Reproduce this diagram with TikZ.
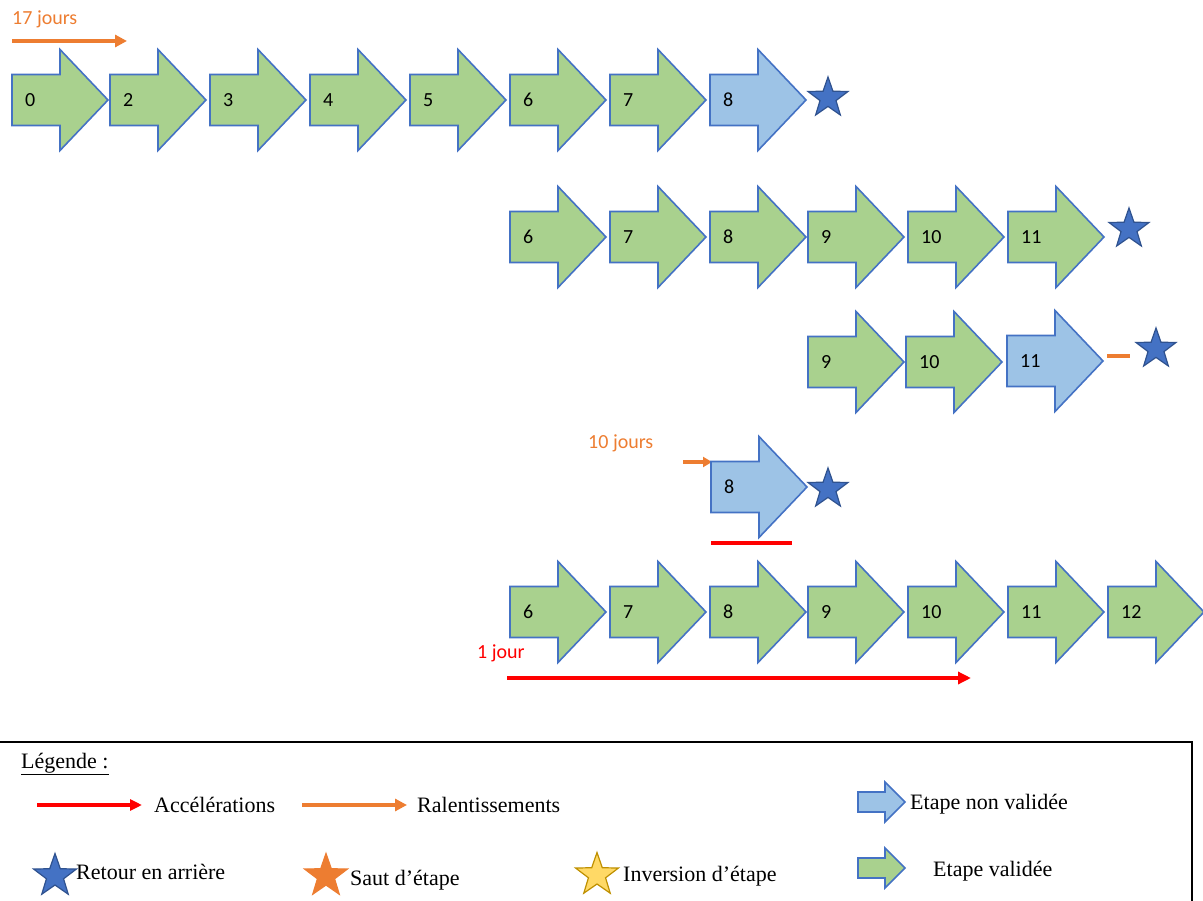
\documentclass[tikz,border=0pt]{standalone}
\usepackage{fontspec}
\setmainfont{Liberation Serif}
\newfontfamily\calfont{Carlito}
\usetikzlibrary{arrows.meta,shapes.geometric}
\definecolor{grn}{HTML}{A9D18E}
\definecolor{blu}{HTML}{9DC3E6}
\definecolor{edgeblue}{HTML}{4472C4}
\definecolor{org}{HTML}{ED7D31}
\definecolor{starblue}{HTML}{4472C4}
\definecolor{staredge}{HTML}{2F528F}
\definecolor{yel}{HTML}{FFD966}
\definecolor{yeledge}{HTML}{BF9000}
\definecolor{orgedge}{HTML}{ED7D31}
\tikzset{
  stepshape/.style={draw=edgeblue,line width=1.6pt,line join=miter},
  steplbl/.style={anchor=west,inner sep=0pt,font=\calfont\fontsize{20}{24}\selectfont},
  daylbl/.style={anchor=base west,inner sep=0pt,font=\calfont\fontsize{20}{24}\selectfont},
  legtxt/.style={anchor=base west,inner sep=0pt,font=\fontsize{22}{26}\selectfont},
  starnode/.style={star,star points=5,star point ratio=2.5,inner sep=0pt,minimum size=42pt,line width=1.2pt},
  redarr/.style={draw=red,line width=4pt,-{Triangle[length=13pt,width=12pt]}},
  orgarr/.style={draw=org,line width=3.5pt,-{Triangle[length=12pt,width=12pt]}},
}
% name, left x, center y, label, fill
\newcommand{\stp}[5]{%
  \draw[stepshape,fill=#5] (#2,#3-25.5) -- (#2+48,#3-25.5) -- (#2+48,#3-50.5) -- (#2+96,#3) -- (#2+48,#3+50.5) -- (#2+48,#3+25.5) -- (#2,#3+25.5) -- cycle;
  \node[steplbl] (#1) at (#2+13,#3) {#4};}
% legend arrow: name, left x, center y, fill
\newcommand{\legarr}[4]{%
  \draw[stepshape,fill=#4] (#2,#3-10) -- (#2+27,#3-10) -- (#2+27,#3-20) -- (#2+47,#3) -- (#2+27,#3+20) -- (#2+27,#3+10) -- (#2,#3+10) -- cycle;
  \coordinate (#1) at (#2+47,#3);}
\begin{document}
\begin{tikzpicture}[x=1pt,y=-1pt]
\useasboundingbox (0,0) rectangle (1203,901);
% row 1
\node[daylbl,text=org] (d17) at (12,25) {17 jours};
\coordinate (o1a) at (12,41);
\coordinate (o1b) at (127,41);
\draw[orgarr] (o1a) -- (o1b);
\stp{r1a}{12}{100}{0}{grn}
\stp{r1b}{110}{100}{2}{grn}
\stp{r1c}{210}{100}{3}{grn}
\stp{r1d}{310}{100}{4}{grn}
\stp{r1e}{410}{100}{5}{grn}
\stp{r1f}{510}{100}{6}{grn}
\stp{r1g}{610}{100}{7}{grn}
\stp{r1h}{710}{100}{8}{blu}
\node[starnode,fill=starblue,draw=staredge] (s1) at (828,98) {};
% row 2
\stp{r2a}{510}{237}{6}{grn}
\stp{r2b}{610}{237}{7}{grn}
\stp{r2c}{710}{237}{8}{grn}
\stp{r2d}{808}{237}{9}{grn}
\stp{r2e}{908}{237}{10}{grn}
\stp{r2f}{1008}{237}{11}{grn}
\node[starnode,fill=starblue,draw=staredge] (s2) at (1129,229) {};
% row 3
\stp{r3a}{808}{362}{9}{grn}
\stp{r3b}{906}{362}{10}{grn}
\stp{r3c}{1007}{361}{11}{blu}
\coordinate (d3a) at (1107,356);
\coordinate (d3b) at (1130,356);
\draw[org,line width=3.5pt] (d3a) -- (d3b);
\node[starnode,fill=starblue,draw=staredge] (s3) at (1156,349) {};
% row 4
\node[daylbl,text=org] (d10) at (588,449) {10 jours};
\coordinate (o4a) at (683,462);
\coordinate (o4b) at (712,462);
\draw[org,line width=3.5pt,-{Triangle[length=9pt,width=10pt]}] (o4a) -- (o4b);
\stp{r4a}{711}{487}{8}{blu}
\node[starnode,fill=starblue,draw=staredge] (s4) at (828,489) {};
\coordinate (u4a) at (711,543);
\coordinate (u4b) at (792,543);
\draw[red,line width=3.5pt] (u4a) -- (u4b);
% row 5
\stp{r5a}{510}{612}{6}{grn}
\stp{r5b}{610}{612}{7}{grn}
\stp{r5c}{710}{612}{8}{grn}
\stp{r5d}{808}{612}{9}{grn}
\stp{r5e}{908}{612}{10}{grn}
\stp{r5f}{1008}{612}{11}{grn}
\stp{r5g}{1108}{612}{12}{grn}
\node[daylbl,text=red] (d1) at (477,658) {1 jour};
\coordinate (r5x) at (507,678);
\coordinate (r5y) at (971,678);
\draw[redarr] (r5x) -- (r5y);
% legend
\coordinate (lgA) at (0,742);
\coordinate (lgB) at (1192,742);
\coordinate (lgC) at (1192,905);
\draw[line width=2pt] (lgA) -- (lgB) -- (lgC);
\node[legtxt] (lgtitle) at (21,768) {\underline{Légende :}};
\coordinate (la1) at (37,805);
\coordinate (la2) at (142,805);
\draw[redarr,line width=3.5pt,-{Triangle[length=12pt,width=11pt]}] (la1) -- (la2);
\node[legtxt] (lacc) at (154,812) {Accélérations};
\coordinate (lr1) at (302,805);
\coordinate (lr2) at (407,805);
\draw[orgarr] (lr1) -- (lr2);
\node[legtxt] (lral) at (417,812) {Ralentissements};
\legarr{lblue}{858}{802}{blu}
\node[legtxt] (lnv) at (910,809) {Etape non validée};
\legarr{lgreen}{858}{868}{grn}
\node[legtxt] (lv) at (933,876) {Etape validée};
\node[starnode,fill=starblue,draw=staredge,minimum size=45pt] (ls1) at (55,876) {};
\node[legtxt] (lret) at (76,879) {Retour en arrière};
\node[starnode,fill=org,draw=orgedge,minimum size=45pt] (ls2) at (326,876) {};
\node[legtxt] (lsaut) at (350,885) {Saut d’étape};
\node[starnode,fill=yel,draw=yeledge,minimum size=45pt] (ls3) at (597,875) {};
\node[legtxt] (linv) at (623,881) {Inversion d’étape};
\end{tikzpicture}
\end{document}
